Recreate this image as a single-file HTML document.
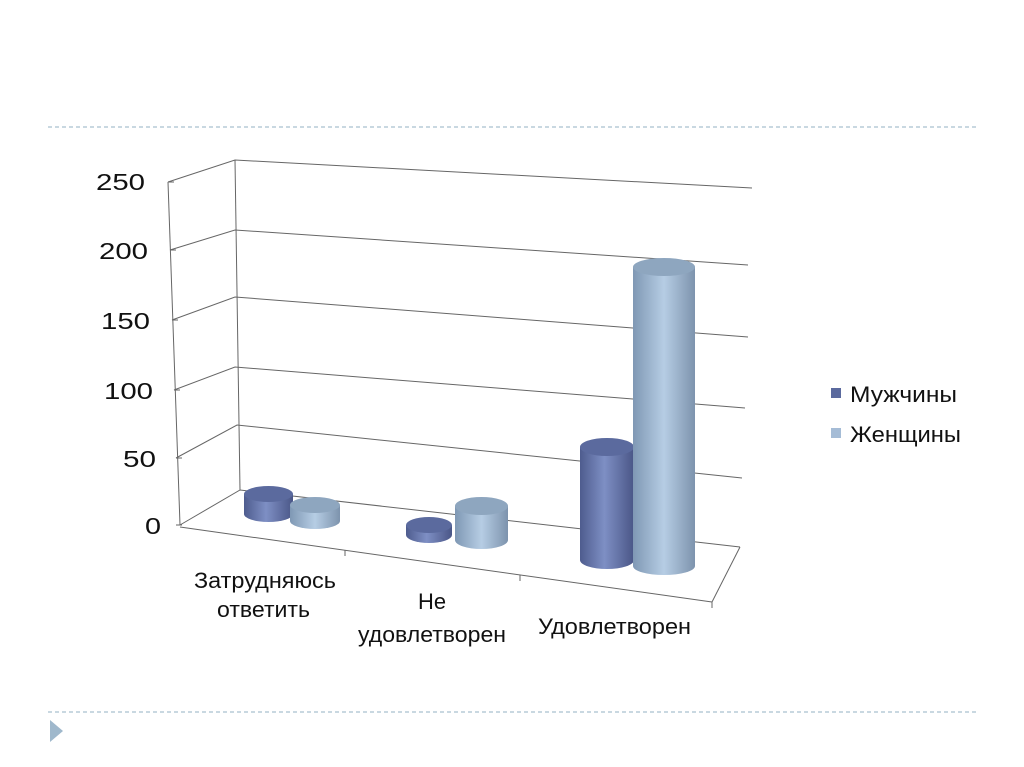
<!DOCTYPE html>
<html><head><meta charset="utf-8"><style>body{margin:0;background:#fff}svg{display:block}</style></head><body>
<svg width="1024" height="767" viewBox="0 0 1024 767" xmlns="http://www.w3.org/2000/svg" font-family="Liberation Sans, DejaVu Sans, sans-serif">
<defs>
<linearGradient id="d" x1="0" x2="1"><stop offset="0" stop-color="#4e5c8e"/><stop offset="0.45" stop-color="#7e8fc4"/><stop offset="1" stop-color="#4a5687"/></linearGradient>
<linearGradient id="l" x1="0" x2="1"><stop offset="0" stop-color="#7f98b4"/><stop offset="0.5" stop-color="#b6cde4"/><stop offset="1" stop-color="#7d93ad"/></linearGradient>
</defs>
<line x1="48" y1="127" x2="976" y2="127" stroke="#a9c0cf" stroke-width="1.3" stroke-dasharray="4,3"/>
<line x1="48" y1="712" x2="976" y2="712" stroke="#a9c0cf" stroke-width="1.3" stroke-dasharray="4,3"/>
<polygon points="50,720 63,731 50,742" fill="#9fb8cc"/>
<g stroke="#666" stroke-width="1" fill="none">
<polyline points="168,182 235,160 752,188"/>
<polyline points="170,250 235,230 748,265"/>
<polyline points="172,320 235,297 748,337"/>
<polyline points="174,390 235,367 745,408"/>
<polyline points="176,458 237,425 742,478"/>
<polyline points="180,525 240,490 740,547"/>
<line x1="235" y1="160" x2="240" y2="490"/>
<line x1="168" y1="182" x2="180" y2="525"/>
<line x1="180" y1="527" x2="712" y2="602"/>
<line x1="712" y1="602" x2="740" y2="547"/>
<line x1="345" y1="550" x2="345" y2="556"/><line x1="520" y1="575" x2="520" y2="581"/><line x1="712" y1="602" x2="712" y2="608"/>
<line x1="174" y1="182" x2="168" y2="182"/><line x1="176" y1="250" x2="170" y2="250"/><line x1="178" y1="320" x2="172" y2="320"/><line x1="180" y1="390" x2="174" y2="390"/><line x1="182" y1="458" x2="176" y2="458"/><line x1="182" y1="525" x2="176" y2="525"/>
</g>
<g font-size="23" fill="#111">
<text x="96" y="190" textLength="49" lengthAdjust="spacingAndGlyphs">250</text>
<text x="99" y="259" textLength="49" lengthAdjust="spacingAndGlyphs">200</text>
<text x="101" y="329" textLength="49" lengthAdjust="spacingAndGlyphs">150</text>
<text x="104" y="399" textLength="49" lengthAdjust="spacingAndGlyphs">100</text>
<text x="123" y="467" textLength="33" lengthAdjust="spacingAndGlyphs">50</text>
<text x="145" y="534" textLength="16" lengthAdjust="spacingAndGlyphs">0</text>
</g>
<g>
<path d="M244,494 v20 a24.5,8 0 0 0 49,0 v-20z" fill="url(#d)"/><ellipse cx="268.5" cy="494" rx="24.5" ry="8" fill="#5b6a9e"/>
<path d="M290,505 v16 a25,8 0 0 0 50,0 v-16z" fill="url(#l)"/><ellipse cx="315" cy="505" rx="25" ry="8" fill="#8ea6bf"/>
<path d="M406,525 v10 a23,8 0 0 0 46,0 v-10z" fill="url(#d)"/><ellipse cx="429" cy="525" rx="23" ry="8" fill="#5b6a9e"/>
<path d="M455,506 v34 a26.5,9 0 0 0 53,0 v-34z" fill="url(#l)"/><ellipse cx="481.5" cy="506" rx="26.5" ry="9" fill="#8ea6bf"/>
<path d="M580,447 v113 a27,9 0 0 0 54,0 v-113z" fill="url(#d)"/><ellipse cx="607" cy="447" rx="27" ry="9" fill="#5b6a9e"/>
<path d="M633,267 v299 a31,9 0 0 0 62,0 v-299z" fill="url(#l)"/><ellipse cx="664" cy="267" rx="31" ry="9" fill="#8ea6bf"/>
</g>
<g font-size="22" fill="#111">
<text x="194" y="588" textLength="142" lengthAdjust="spacingAndGlyphs">Затрудняюсь</text>
<text x="217" y="617" textLength="93" lengthAdjust="spacingAndGlyphs">ответить</text>
<text x="418" y="609" textLength="28" lengthAdjust="spacingAndGlyphs">Не</text>
<text x="358" y="642" textLength="148" lengthAdjust="spacingAndGlyphs">удовлетворен</text>
<text x="538" y="634" textLength="153" lengthAdjust="spacingAndGlyphs">Удовлетворен</text>
</g>
<rect x="831" y="388" width="10" height="10" fill="#5b6a9e"/>
<rect x="831" y="428" width="10" height="10" fill="#a5bcd6"/>
<g font-size="22" fill="#111"><text x="850" y="402" textLength="107" lengthAdjust="spacingAndGlyphs">Мужчины</text><text x="850" y="442" textLength="111" lengthAdjust="spacingAndGlyphs">Женщины</text></g>
</svg>
</body></html>
